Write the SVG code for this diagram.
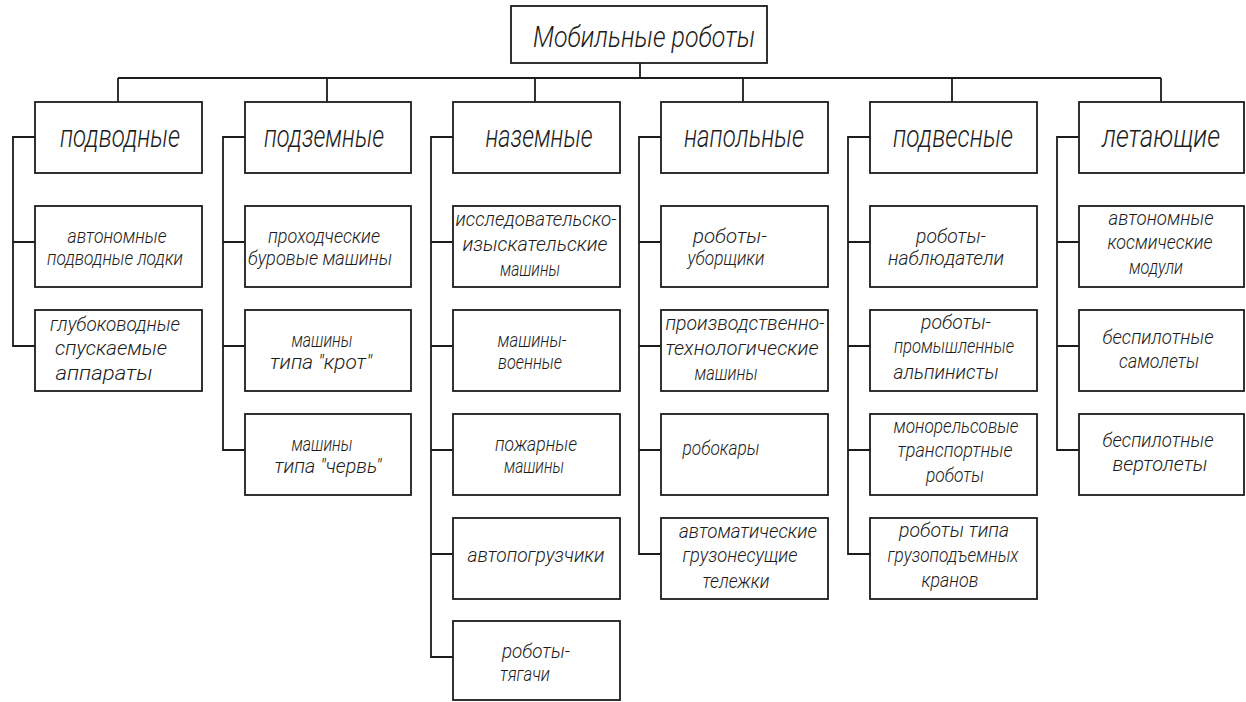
<svg xmlns="http://www.w3.org/2000/svg" width="1246" height="702" viewBox="0 0 1246 702">
<style>
.b{fill:#fff;stroke:#1c1c1c;stroke-width:1.8}
.c{fill:none;stroke:#1c1c1c;stroke-width:1.8}
text{font-family:Roboto,"DejaVu Sans",sans-serif;font-style:italic;font-weight:300;fill:#1c1c1c;text-anchor:middle}
.t0{font-size:30px}
.t1{font-size:32px}
.t2{font-size:21px}
</style>
<rect width="1246" height="702" fill="#fff"/>
<g id="connectors">
<path class="c" d="M640 63V78M118 78H1161M118 78V102M327 78V102M535 78V102M743 78V102M952 78V102M1161 78V102"/>
<path class="c" d="M35 137H13V346H35M13 242H35"/>
<path class="c" d="M245 137H223V450H245M223 242H245M223 346H245"/>
<path class="c" d="M453 137H431V657H453M431 242H453M431 346H453M431 450H453M431 554H453"/>
<path class="c" d="M661 137H639V554H661M639 242H661M639 346H661M639 450H661"/>
<path class="c" d="M870 137H848V554H870M848 242H870M848 346H870M848 450H870"/>
<path class="c" d="M1079 137H1057V450H1079M1057 242H1079M1057 346H1079"/>
</g>
<g id="root"><rect class="b" x="511" y="6" width="256" height="57"/><text class="t0" x="644" y="47" textLength="222" lengthAdjust="spacingAndGlyphs">Мобильные роботы</text></g>

<g id="h0"><rect class="b" x="35" y="102" width="167" height="71"/><text class="t1" x="120" y="147" textLength="120" lengthAdjust="spacingAndGlyphs">подводные</text></g>
<g id="n0_0"><rect class="b" x="35" y="206" width="167" height="81"/><text class="t2" x="117" y="243" textLength="99" lengthAdjust="spacingAndGlyphs">автономные</text><text class="t2" x="115" y="265" textLength="136" lengthAdjust="spacingAndGlyphs">подводные лодки</text></g>
<g id="n0_1"><rect class="b" x="35" y="310" width="167" height="81"/><text class="t2" x="115" y="331" textLength="130" lengthAdjust="spacingAndGlyphs">глубоководные</text><text class="t2" x="111" y="355" textLength="112" lengthAdjust="spacingAndGlyphs">спускаемые</text><text class="t2" x="104" y="380" textLength="97" lengthAdjust="spacingAndGlyphs">аппараты</text></g>

<g id="h1"><rect class="b" x="245" y="102" width="166" height="71"/><text class="t1" x="324" y="147" textLength="120" lengthAdjust="spacingAndGlyphs">подземные</text></g>
<g id="n1_0"><rect class="b" x="245" y="206" width="166" height="81"/><text class="t2" x="324" y="243" textLength="112" lengthAdjust="spacingAndGlyphs">проходческие</text><text class="t2" x="320" y="265" textLength="144" lengthAdjust="spacingAndGlyphs">буровые машины</text></g>
<g id="n1_1"><rect class="b" x="245" y="310" width="166" height="81"/><text class="t2" x="322" y="347" textLength="61" lengthAdjust="spacingAndGlyphs">машины</text><text class="t2" x="321" y="369" textLength="102" lengthAdjust="spacingAndGlyphs">типа "крот"</text></g>
<g id="n1_2"><rect class="b" x="245" y="414" width="166" height="81"/><text class="t2" x="322" y="451" textLength="61" lengthAdjust="spacingAndGlyphs">машины</text><text class="t2" x="328" y="473" textLength="107" lengthAdjust="spacingAndGlyphs">типа "червь"</text></g>

<g id="h2"><rect class="b" x="453" y="102" width="167" height="71"/><text class="t1" x="539" y="147" textLength="107" lengthAdjust="spacingAndGlyphs">наземные</text></g>
<g id="n2_0"><rect class="b" x="453" y="206" width="167" height="81"/><text class="t2" x="536" y="226" textLength="161" lengthAdjust="spacingAndGlyphs">исследовательско-</text><text class="t2" x="535" y="251" textLength="145" lengthAdjust="spacingAndGlyphs">изыскательские</text><text class="t2" x="530" y="276" textLength="60" lengthAdjust="spacingAndGlyphs">машины</text></g>
<g id="n2_1"><rect class="b" x="453" y="310" width="167" height="81"/><text class="t2" x="532" y="347" textLength="69" lengthAdjust="spacingAndGlyphs">машины-</text><text class="t2" x="530" y="369" textLength="64" lengthAdjust="spacingAndGlyphs">военные</text></g>
<g id="n2_2"><rect class="b" x="453" y="414" width="167" height="81"/><text class="t2" x="536" y="451" textLength="82" lengthAdjust="spacingAndGlyphs">пожарные</text><text class="t2" x="534" y="473" textLength="60" lengthAdjust="spacingAndGlyphs">машины</text></g>
<g id="n2_3"><rect class="b" x="453" y="518" width="167" height="81"/><text class="t2" x="536" y="562" textLength="137" lengthAdjust="spacingAndGlyphs">автопогрузчики</text></g>
<g id="n2_4"><rect class="b" x="453" y="621" width="167" height="79"/><text class="t2" x="536" y="658" textLength="68" lengthAdjust="spacingAndGlyphs">роботы-</text><text class="t2" x="525" y="681" textLength="50" lengthAdjust="spacingAndGlyphs">тягачи</text></g>

<g id="h3"><rect class="b" x="661" y="102" width="167" height="71"/><text class="t1" x="744" y="147" textLength="120" lengthAdjust="spacingAndGlyphs">напольные</text></g>
<g id="n3_0"><rect class="b" x="661" y="206" width="167" height="81"/><text class="t2" x="730" y="243" textLength="74" lengthAdjust="spacingAndGlyphs">роботы-</text><text class="t2" x="726" y="265" textLength="77" lengthAdjust="spacingAndGlyphs">уборщики</text></g>
<g id="n3_1"><rect class="b" x="661" y="310" width="167" height="81"/><text class="t2" x="745" y="330" textLength="159" lengthAdjust="spacingAndGlyphs">производственно-</text><text class="t2" x="742" y="355" textLength="153" lengthAdjust="spacingAndGlyphs">технологические</text><text class="t2" x="726" y="380" textLength="63" lengthAdjust="spacingAndGlyphs">машины</text></g>
<g id="n3_2"><rect class="b" x="661" y="414" width="167" height="81"/><text class="t2" x="721" y="455" textLength="77" lengthAdjust="spacingAndGlyphs">робокары</text></g>
<g id="n3_3"><rect class="b" x="661" y="518" width="167" height="81"/><text class="t2" x="748" y="538" textLength="138" lengthAdjust="spacingAndGlyphs">автоматические</text><text class="t2" x="740" y="562" textLength="115" lengthAdjust="spacingAndGlyphs">грузонесущие</text><text class="t2" x="736" y="588" textLength="67" lengthAdjust="spacingAndGlyphs">тележки</text></g>

<g id="h4"><rect class="b" x="870" y="102" width="167" height="71"/><text class="t1" x="953" y="147" textLength="120" lengthAdjust="spacingAndGlyphs">подвесные</text></g>
<g id="n4_0"><rect class="b" x="870" y="206" width="167" height="81"/><text class="t2" x="951" y="243" textLength="70" lengthAdjust="spacingAndGlyphs">роботы-</text><text class="t2" x="946" y="265" textLength="116" lengthAdjust="spacingAndGlyphs">наблюдатели</text></g>
<g id="n4_1"><rect class="b" x="870" y="310" width="167" height="81"/><text class="t2" x="956" y="329" textLength="70" lengthAdjust="spacingAndGlyphs">роботы-</text><text class="t2" x="954" y="353" textLength="120" lengthAdjust="spacingAndGlyphs">промышленные</text><text class="t2" x="946" y="379" textLength="105" lengthAdjust="spacingAndGlyphs">альпинисты</text></g>
<g id="n4_2"><rect class="b" x="870" y="414" width="167" height="81"/><text class="t2" x="956" y="433" textLength="125" lengthAdjust="spacingAndGlyphs">монорельсовые</text><text class="t2" x="955" y="457" textLength="115" lengthAdjust="spacingAndGlyphs">транспортные</text><text class="t2" x="955" y="482" textLength="58" lengthAdjust="spacingAndGlyphs">роботы</text></g>
<g id="n4_3"><rect class="b" x="870" y="518" width="167" height="81"/><text class="t2" x="954" y="537" textLength="110" lengthAdjust="spacingAndGlyphs">роботы типа</text><text class="t2" x="953" y="562" textLength="131" lengthAdjust="spacingAndGlyphs">грузоподъемных</text><text class="t2" x="950" y="587" textLength="57" lengthAdjust="spacingAndGlyphs">кранов</text></g>

<g id="h5"><rect class="b" x="1079" y="102" width="165" height="71"/><text class="t1" x="1161" y="147" textLength="118" lengthAdjust="spacingAndGlyphs">летающие</text></g>
<g id="n5_0"><rect class="b" x="1079" y="206" width="165" height="81"/><text class="t2" x="1161" y="225" textLength="105" lengthAdjust="spacingAndGlyphs">автономные</text><text class="t2" x="1160" y="249" textLength="105" lengthAdjust="spacingAndGlyphs">космические</text><text class="t2" x="1156" y="274" textLength="54" lengthAdjust="spacingAndGlyphs">модули</text></g>
<g id="n5_1"><rect class="b" x="1079" y="310" width="165" height="81"/><text class="t2" x="1158" y="344" textLength="111" lengthAdjust="spacingAndGlyphs">беспилотные</text><text class="t2" x="1159" y="368" textLength="80" lengthAdjust="spacingAndGlyphs">самолеты</text></g>
<g id="n5_2"><rect class="b" x="1079" y="414" width="165" height="81"/><text class="t2" x="1158" y="447" textLength="111" lengthAdjust="spacingAndGlyphs">беспилотные</text><text class="t2" x="1160" y="471" textLength="95" lengthAdjust="spacingAndGlyphs">вертолеты</text></g>
</svg>
